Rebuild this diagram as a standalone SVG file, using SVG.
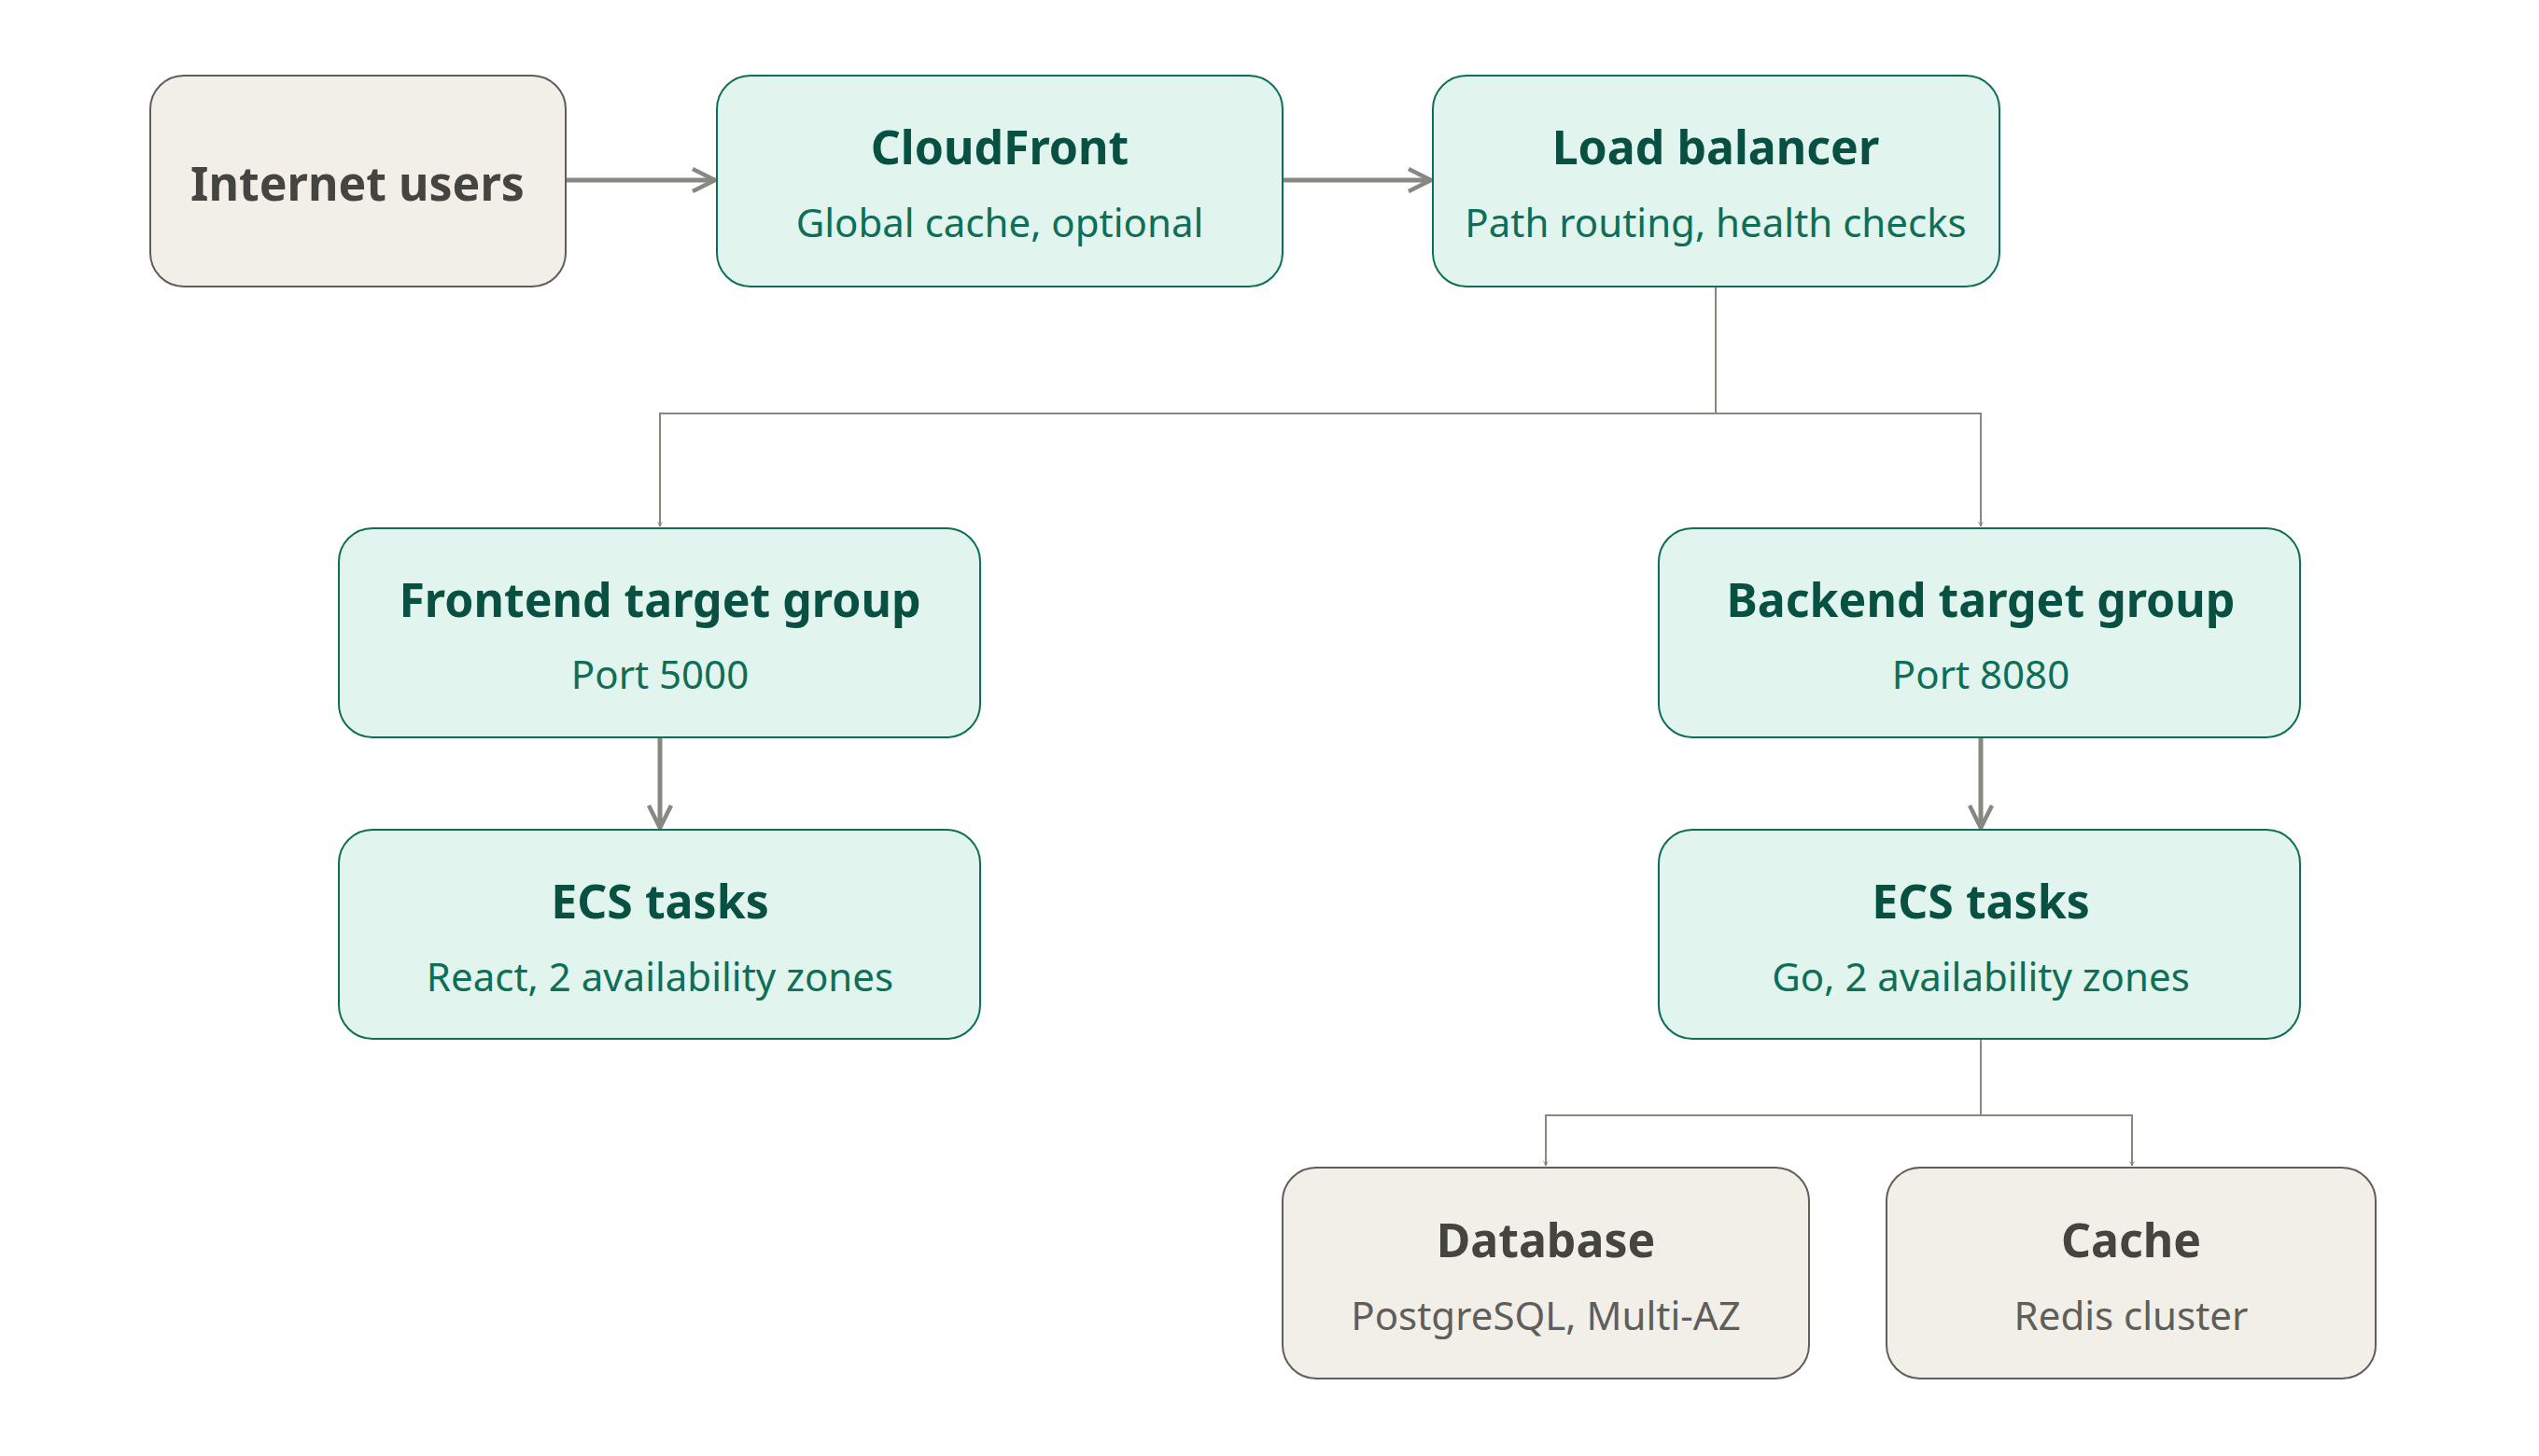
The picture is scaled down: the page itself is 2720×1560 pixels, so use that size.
<svg xmlns="http://www.w3.org/2000/svg" width="2720" height="1560" viewBox="0 0 2720 1560">
<style>
.g rect{fill:#e1f5ee;stroke:#0f6e56;stroke-width:2}
.n rect{fill:#f1efe8;stroke:#5f5e5a;stroke-width:2}
text{font-family:"Noto Sans","Open Sans",sans-serif;text-anchor:middle;dominant-baseline:central}
.t{font-size:50px;font-weight:bold}
.s{font-size:42px}
.g .t{fill:#085041}.g .s{fill:#0f6e56}
.n .t{fill:#444441}.n .s{fill:#5f5e5a}
.thick{stroke:#888780;stroke-width:5;fill:none}
.thin{stroke:#888780;stroke-width:2;fill:none}
</style>
<defs>
<marker id="a" viewBox="0 0 10 10" refX="9" refY="5" markerWidth="6" markerHeight="6" orient="auto" markerUnits="userSpaceOnUse"><path d="M1,1 L9,5 L1,9" fill="none" stroke="#888780" stroke-width="1.5"/></marker>
<marker id="b" viewBox="0 0 10 10" refX="9" refY="5" markerWidth="6" markerHeight="6" orient="auto"><path d="M1,1 L9,5 L1,9" fill="none" stroke="#888780" stroke-width="1.5"/></marker>
</defs>
<rect width="2720" height="1560" fill="#fff"/>
<g id="connectors">
<path class="thick" d="M606,193 H766" marker-end="url(#b)"/>
<path class="thick" d="M1374,193 H1533" marker-end="url(#b)"/>
<path class="thin" d="M1838,307 V443 H707 V564" marker-end="url(#a)" />
<path class="thin" d="M1838,443 H2122 V564" marker-end="url(#a)"/>
<path class="thick" d="M707,790 V887" marker-end="url(#b)"/>
<path class="thick" d="M2122,790 V887" marker-end="url(#b)"/>
<path class="thin" d="M2122,1113 V1195 H1656 V1249" marker-end="url(#a)"/>
<path class="thin" d="M2122,1195 H2284 V1249" marker-end="url(#a)"/>
</g>
<g id="internet" class="n"><rect x="161" y="81" width="445" height="226" rx="36"/><text class="t" x="383" y="196">Internet users</text></g>
<g id="cloudfront" class="g"><rect x="768" y="81" width="606" height="226" rx="36"/><text class="t" x="1071" y="157">CloudFront</text><text class="s" x="1071" y="237">Global cache, optional</text></g>
<g id="lb" class="g"><rect x="1535" y="81" width="607" height="226" rx="36"/><text class="t" x="1838" y="157">Load balancer</text><text class="s" x="1838" y="237">Path routing, health checks</text></g>
<g id="ftg" class="g"><rect x="363" y="566" width="687" height="224" rx="36"/><text class="t" x="707" y="642">Frontend target group</text><text class="s" x="707" y="721">Port 5000</text></g>
<g id="btg" class="g"><rect x="1777" y="566" width="687" height="224" rx="36"/><text class="t" x="2122" y="642">Backend target group</text><text class="s" x="2122" y="721">Port 8080</text></g>
<g id="fecs" class="g"><rect x="363" y="889" width="687" height="224" rx="36"/><text class="t" x="707" y="965">ECS tasks</text><text class="s" x="707" y="1045">React, 2 availability zones</text></g>
<g id="becs" class="g"><rect x="1777" y="889" width="687" height="224" rx="36"/><text class="t" x="2122" y="965">ECS tasks</text><text class="s" x="2122" y="1045">Go, 2 availability zones</text></g>
<g id="db" class="n"><rect x="1374" y="1251" width="564" height="226" rx="36"/><text class="t" x="1656" y="1328">Database</text><text class="s" x="1656" y="1408">PostgreSQL, Multi-AZ</text></g>
<g id="cache" class="n"><rect x="2021" y="1251" width="524" height="226" rx="36"/><text class="t" x="2283" y="1328">Cache</text><text class="s" x="2283" y="1408">Redis cluster</text></g>
</svg>
